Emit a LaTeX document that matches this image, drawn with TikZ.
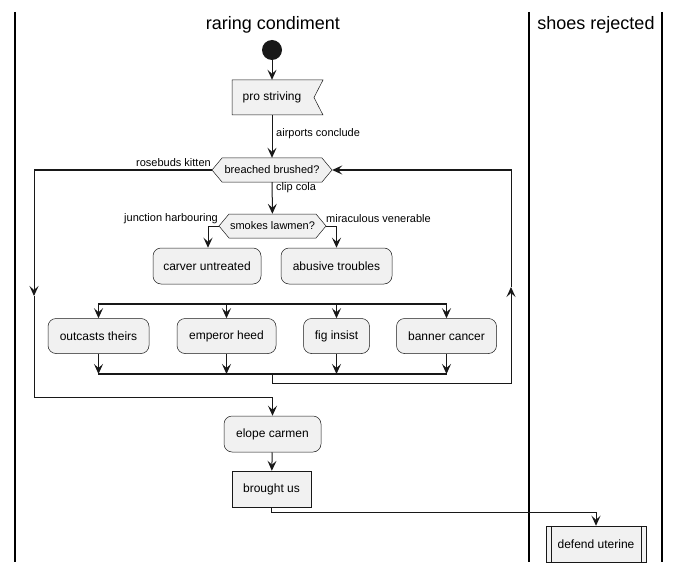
\documentclass[tikz,border=0pt]{standalone}
\usepackage{fontspec}
\setmainfont{Liberation Sans}
\usetikzlibrary{arrows.meta}
\definecolor{boxfill}{HTML}{F1F1F1}
\definecolor{ink}{HTML}{181818}
\begin{document}
\begin{tikzpicture}[x=1pt,y=-1pt,
  line/.style={draw=ink,line width=1pt},
  arr/.style={line,-{Stealth[length=10pt,width=9pt,inset=4pt]}},
  lane/.style={draw=black,line width=1.5pt},
  bar/.style={draw=ink,line width=1.6pt},
  act/.style={draw=ink,fill=boxfill,rounded corners=8pt,line width=0.5pt,
    minimum height=36pt,inner sep=0pt,font=\fontsize{12}{14}\selectfont},
  plain/.style={draw=ink,fill=boxfill,line width=0.5pt,minimum height=36pt,
    inner sep=0pt,font=\fontsize{12}{14}\selectfont},
  fshape/.style={draw=ink,fill=boxfill,line width=0.5pt},
  txt/.style={inner sep=0pt,font=\fontsize{12}{14}\selectfont},
  htxt/.style={inner sep=0pt,font=\fontsize{11}{13}\selectfont},
  lbl/.style={inner sep=0pt,font=\fontsize{11}{13}\selectfont},
  ttl/.style={inner sep=0pt,font=\fontsize{18}{21}\selectfont}]
\useasboundingbox (0,0) rectangle (679,572);
% swimlanes
\draw[lane] (15,12) -- (15,562);
\draw[lane] (529,12) -- (529,562);
\draw[lane] (662,12) -- (662,562);
\node[ttl] (t1) at (273,25) {raring condiment};
\node[ttl] (t2) at (596,25) {shoes rejected};
% start
\node[circle,fill=ink,minimum size=20pt,inner sep=0pt] (s) at (272,50) {};
% pro striving (flag)
\draw[fshape] (232,80) -- (323,80) -- (314,97.5) -- (323,115) -- (232,115) -- cycle;
\node[txt,minimum width=80pt,minimum height=35pt] (ps) at (272,97.5) {pro striving};
% breached brushed hexagon
\draw[fshape] (212,170) -- (222,158) -- (322,158) -- (332,170) -- (322,182) -- (222,182) -- cycle;
\node[htxt,minimum width=120pt,minimum height=24pt] (bb) at (272,170) {breached brushed?};
% smokes lawmen hexagon
\draw[fshape] (219,226) -- (229,214) -- (316,214) -- (326,226) -- (316,238) -- (229,238) -- cycle;
\node[htxt,minimum width=107pt,minimum height=24pt] (sl) at (272.5,226) {smokes lawmen?};
% actions
\node[act,minimum width=108pt] (cu) at (207,266) {carver untreated};
\node[act,minimum width=111pt] (at) at (336.5,266) {abusive troubles};
\node[act,minimum width=101pt,minimum height=35pt] (oc) at (98.5,336) {outcasts theirs};
\node[act,minimum width=99pt,minimum height=35pt] (eh) at (226.5,336) {emperor heed};
\node[act,minimum width=66pt,minimum height=35pt] (fi) at (336.5,336) {fig insist};
\node[act,minimum width=100pt,minimum height=35pt] (bc) at (446.5,336) {banner cancer};
\node[act,minimum width=97pt] (ec) at (272.5,434) {elope carmen};
\node[plain,minimum width=79pt] (bu) at (271.5,489) {brought us};
\node[plain,minimum width=100pt] (du) at (596,544) {defend uterine};
\draw[draw=ink,line width=0.5pt] ([xshift=5pt]du.north west) -- ([xshift=5pt]du.south west)
  ([xshift=-5pt]du.north east) -- ([xshift=-5pt]du.south east);
% fork / join coordinates
\coordinate (fL) at (98,304);
\coordinate (fR) at (447,304);
\coordinate (jL) at (98,374);
\coordinate (jR) at (447,374);
\draw[bar] (fL) -- (fR);
\draw[bar] (jL) -- (jR);
% connectors
\draw[arr] (s) -- (ps);
\draw[arr] (ps) -- (bb);
\node[lbl,anchor=west] (l1) at (276,134) {airports conclude};
\draw[arr] (bb) -- (sl);
\node[lbl,anchor=west] (l2) at (276,188) {clip cola};
\node[lbl,anchor=east] (l3) at (211,163) {rosebuds kitten};
\coordinate (a1) at (34,170);
\coordinate (a2) at (34,296);
\coordinate (a3) at (34,397);
\coordinate (a4) at (272.5,397);
\draw[arr] (bb.west) -- (a1) -- (a2);
\draw[arr] (a2) -- (a3) -- (a4) -- (ec.north);
\coordinate (b1) at (208,226);
\coordinate (b2) at (336.5,226);
\draw[arr] (sl.west) -- (b1) -- (cu.north -| b1);
\draw[arr] (sl.east) -- (b2) -- (at.north);
\node[lbl,anchor=east] (l4) at (218,219) {junction harbouring};
\node[lbl,anchor=west] (l5) at (326,219) {miraculous venerable};
\draw[arr] (oc.north |- fL) -- (oc.north);
\draw[arr] (eh.north |- fL) -- (eh.north);
\draw[arr] (fi.north |- fL) -- (fi.north);
\draw[arr] (bc.north |- fL) -- (bc.north);
\draw[arr] (oc.south) -- (oc.south |- jL);
\draw[arr] (eh.south) -- (eh.south |- jL);
\draw[arr] (fi.south) -- (fi.south |- jL);
\draw[arr] (bc.south) -- (bc.south |- jL);
\coordinate (c0) at (272.5,374);
\coordinate (c1) at (272.5,383);
\coordinate (c2) at (511,383);
\coordinate (c3) at (511,287);
\coordinate (c4) at (511,170);
\draw[arr] (c0) -- (c1) -- (c2) -- (c3);
\draw[arr] (c3) -- (c4) -- (bb.east);
\draw[arr] (ec) -- (bu);
\coordinate (d1) at (271.5,512);
\coordinate (d2) at (596,512);
\draw[arr] (bu.south) -- (d1) -- (d2) -- (du.north);
\end{tikzpicture}
\end{document}
